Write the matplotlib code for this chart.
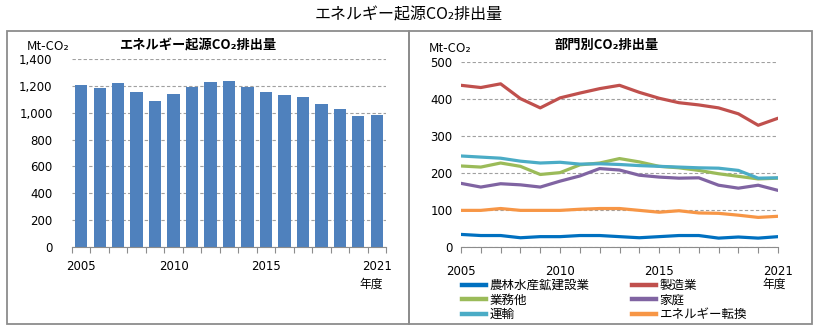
import numpy as np
import matplotlib
matplotlib.use("Agg")
import matplotlib.pyplot as plt
from matplotlib.patches import Rectangle
from matplotlib.lines import Line2D

plt.rcParams["font.family"] = ["DejaVu Sans", "Noto Sans CJK JP"]
JP = ["Noto Sans CJK JP", "DejaVu Sans"]

YEARS = list(range(2005, 2022))
TOTAL = [1203, 1181, 1218, 1153, 1089, 1138, 1188, 1231, 1238, 1188,
         1153, 1131, 1116, 1066, 1029, 972, 984]

SECTORS = ["農林水産鉱建設業", "製造業", "業務他", "家庭", "運輸", "エネルギー転換"]
AGRI = [34, 31, 31, 25, 28, 28, 31, 31, 28, 25, 28, 31, 31, 24, 27, 24, 28]
MANUF = [437, 431, 441, 401, 376, 403, 416, 428, 437, 418, 402, 390, 384, 376, 360, 329, 348]
COMMERCIAL = [219, 216, 227, 218, 196, 201, 222, 227, 239, 230, 218, 214, 207, 198, 191, 184, 186]
HOUSEHOLD = [172, 162, 171, 168, 162, 178, 192, 212, 208, 194, 189, 186, 187, 167, 159, 167, 153]
TRANSPORT = [246, 243, 240, 232, 227, 229, 224, 225, 223, 220, 218, 216, 214, 213, 207, 186, 187]
ENERGY = [99, 99, 104, 99, 99, 99, 102, 104, 104, 99, 94, 98, 92, 91, 86, 80, 83]
COLORS = ["#0070C0", "#C0504D", "#9BBB59", "#8064A2", "#4BACC6", "#F79646"]

LABEL_YEARS = [2005, 2010, 2015, 2021]

W, H = 818, 332
fig = plt.figure(figsize=(W / 100, H / 100), dpi=100)


def px_axes(x0, x1, ytop, ybot):
    return fig.add_axes([x0 / W, 1 - ybot / H, (x1 - x0) / W, (ybot - ytop) / H])


# panel frame
frame_kw = dict(transform=None, fill=False, edgecolor="#8c8c8c", lw=1.3)
fig.patches.append(Rectangle((7, H - 324), 402, 293, **frame_kw))
fig.patches.append(Rectangle((409, H - 324), 403, 293, **frame_kw))

fig.text(409 / W, 1 - 15 / H, "エネルギー起源CO₂排出量", family=JP, fontsize=11.5,
         ha="center", va="center")


def style_axes(ax):
    for s in ["left", "right", "top"]:
        ax.spines[s].set_visible(False)
    ax.spines["bottom"].set_color("#8c8c8c")
    ax.yaxis.grid(True, ls=(0, (3, 2)), color="#a0a0a0", lw=0.8)
    ax.set_axisbelow(True)
    ax.tick_params(axis="y", length=0, labelsize=8.5)
    ax.tick_params(axis="x", which="major", direction="out", length=4,
                   color="#8c8c8c", labelsize=8.5)


# total energy-related emissions
ax1 = px_axes(72, 386, 59, 247)
style_axes(ax1)
pos = np.arange(len(YEARS))
ax1.bar(pos, TOTAL, width=0.67, color="#4F81BD", zorder=2)
ax1.set_xlim(-0.5, len(YEARS) - 0.5)
ax1.set_ylim(0, 1400)
ax1.set_yticks(range(0, 1401, 200))
ax1.set_yticklabels([f"{v:,}" for v in range(0, 1401, 200)])
ax1.tick_params(axis="y", pad=14)
ax1.set_xticks(np.arange(-0.5, len(YEARS), 1.0))
ax1.set_xticklabels([])
ax1.set_xticks([YEARS.index(y) for y in LABEL_YEARS], minor=True)
ax1.set_xticklabels([str(y) for y in LABEL_YEARS], minor=True)
ax1.tick_params(axis="x", which="minor", length=0, pad=9, labelsize=8.5)
fig.text(48 / W, 1 - 47 / H, "Mt-CO₂", family=JP, fontsize=9.3, ha="center", va="center")
fig.text(198 / W, 1 - 45 / H, "エネルギー起源CO₂排出量", family=JP, fontsize=9.5,
         weight="bold", ha="center", va="center")
fig.text(371 / W, 1 - 284 / H, "年度", family=JP, fontsize=8.5, ha="center", va="center")

# emissions by sector
ax2 = px_axes(461, 778, 62, 247)
style_axes(ax2)
series = [AGRI, MANUF, COMMERCIAL, HOUSEHOLD, TRANSPORT, ENERGY]
for vals, c in zip(series, COLORS):
    ax2.plot(YEARS, vals, color=c, lw=2.3, solid_capstyle="round")
ax2.set_xlim(YEARS[0], YEARS[-1])
ax2.set_ylim(0, 500)
ax2.set_yticks(range(0, 501, 100))
ax2.tick_params(axis="y", pad=6)
ax2.set_xticks(YEARS)
ax2.set_xticklabels([str(y) if y in LABEL_YEARS else "" for y in YEARS])
ax2.tick_params(axis="x", pad=9)
fig.text(450 / W, 1 - 48 / H, "Mt-CO₂", family=JP, fontsize=9.3, ha="center", va="center")
fig.text(607 / W, 1 - 45 / H, "部門別CO₂排出量", family=JP, fontsize=9.5,
         weight="bold", ha="center", va="center")
fig.text(774 / W, 1 - 284 / H, "年度", family=JP, fontsize=8.5, ha="center", va="center")

# legend, filled row by row
order = [0, 2, 4, 1, 3, 5]
handles = [Line2D([], [], color=COLORS[i], lw=3.2) for i in order]
labels = [SECTORS[i] for i in order]
leg = fig.legend(handles, labels, ncol=2, loc="upper left",
                 bbox_to_anchor=(462 / W, 1 - 279 / H), frameon=False,
                 prop={"family": JP, "size": 9}, handlelength=1.9,
                 handletextpad=0.3, labelspacing=0.12, columnspacing=3.4,
                 borderpad=0, borderaxespad=0)

fig.savefig("out.png", dpi=100, facecolor="white")
